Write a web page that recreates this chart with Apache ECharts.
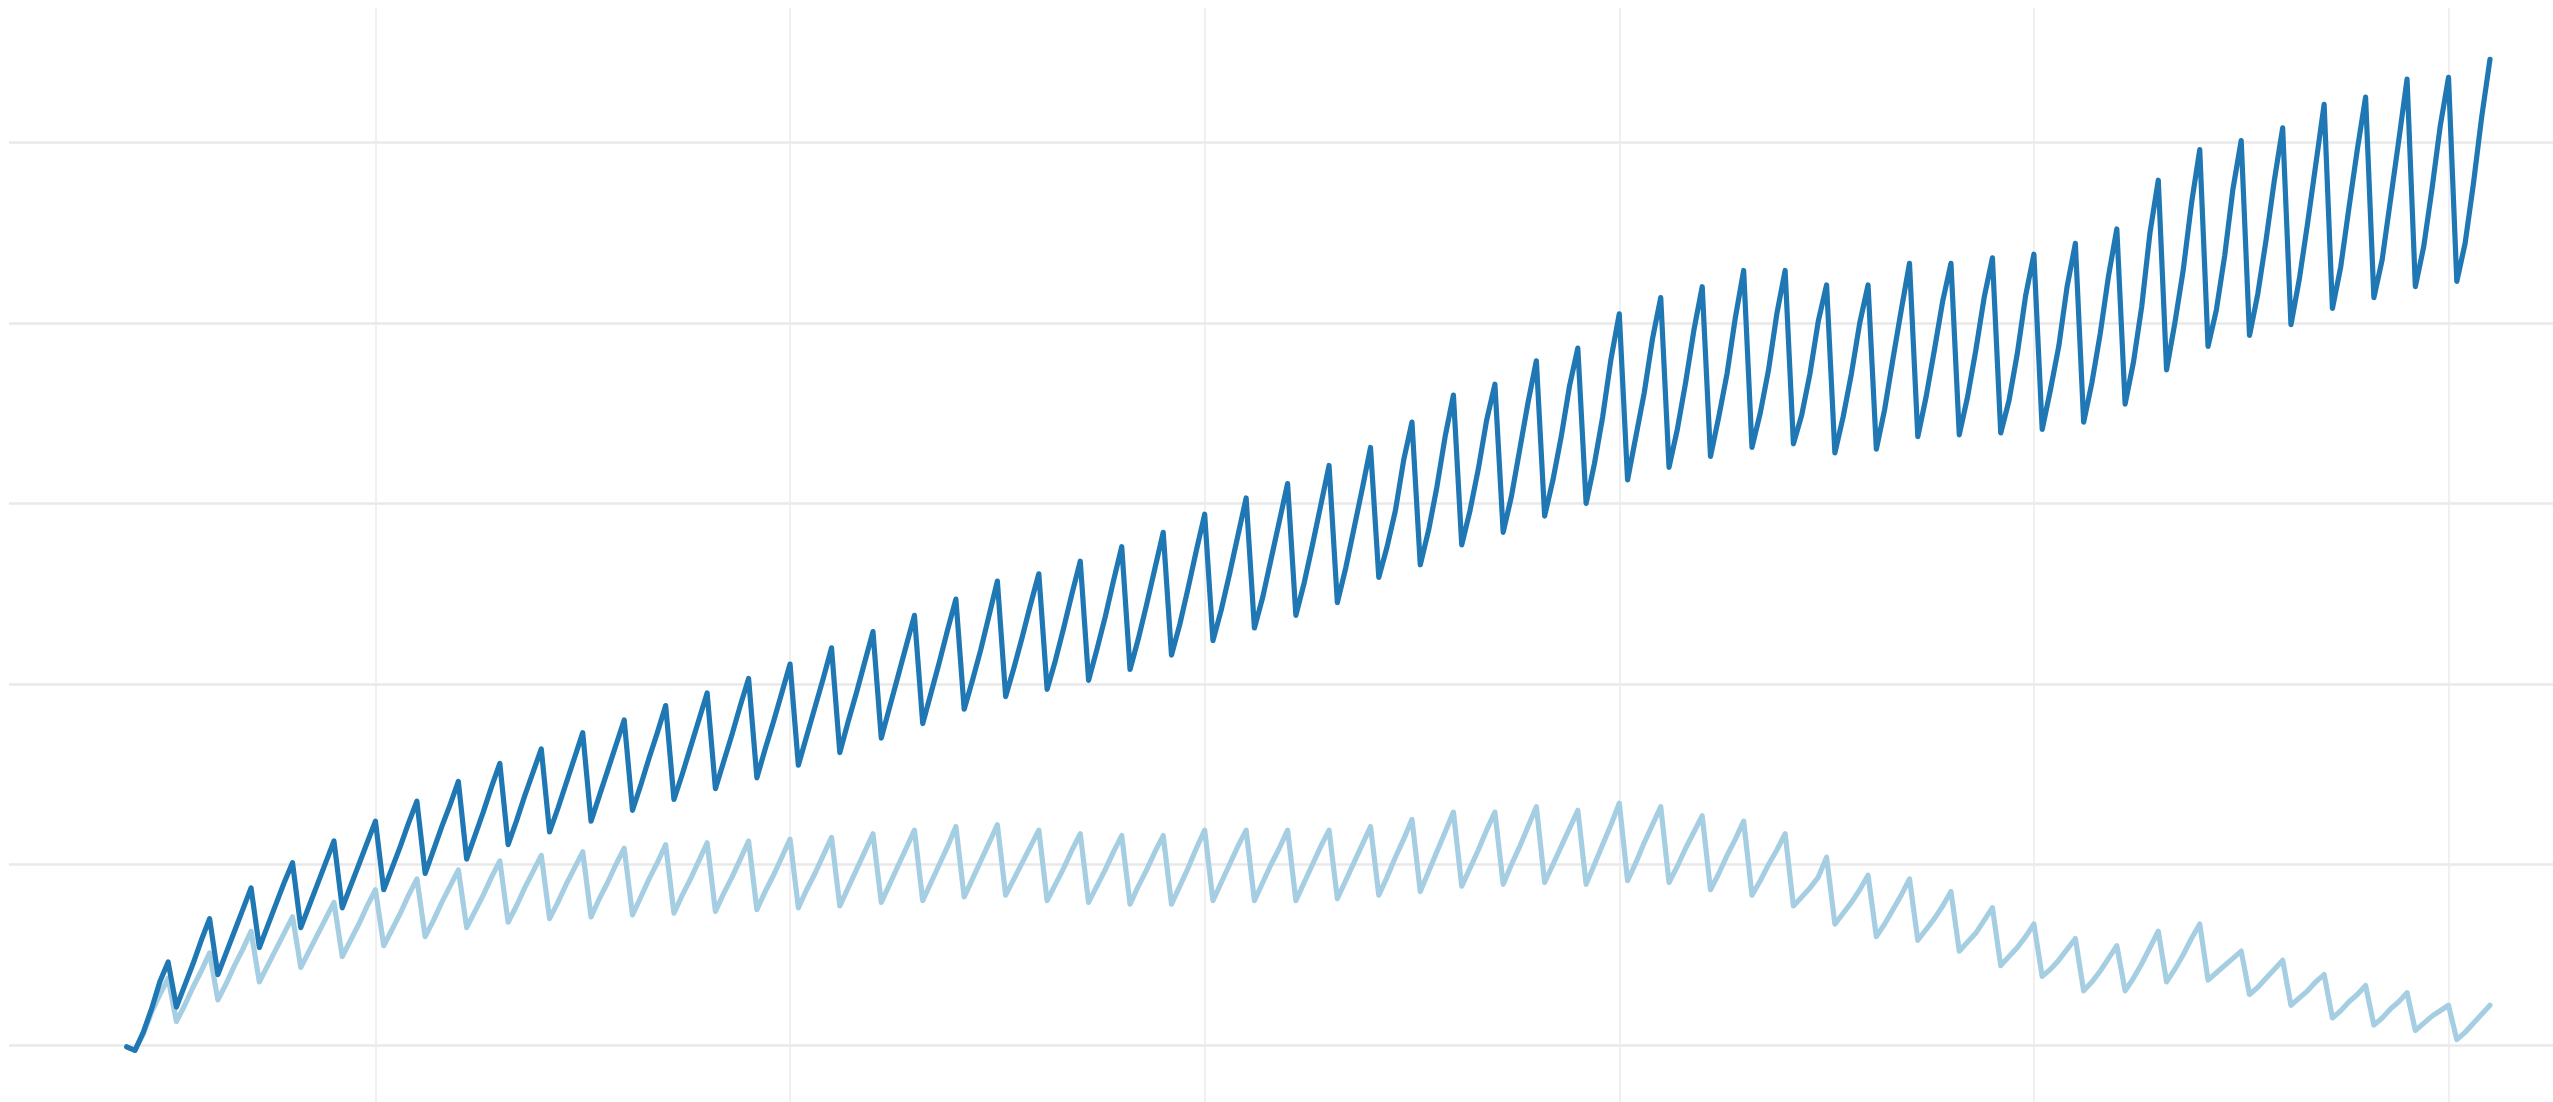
<!DOCTYPE html>
<html>
<head>
<meta charset="utf-8">
<script src="https://cdn.jsdelivr.net/npm/echarts@6/dist/echarts.min.js"></script>
<style>
html,body{margin:0;padding:0;background:#ffffff;}
#chart{width:2553px;height:1102px;}
</style>
</head>
<body>
<div id="chart"></div>
<script>
// x value of the first observation (observations are equally spaced, step 1)
const firstPeriod = 20;

// dark blue series, one value per observation
const darkValues = [
  -0.1, -0.3, 0.7, 2.0, 3.5, 4.6,
  2.1, 3.3, 4.5, 5.8, 7.0,
  3.9, 5.1, 6.3, 7.5, 8.7,
  5.4, 6.6, 7.8, 9.0, 10.1,
  6.5, 7.7, 8.9, 10.1, 11.3,
  7.6, 8.8, 10.0, 11.2, 12.4,
  8.6, 9.8, 11.0, 12.3, 13.5,
  9.5, 10.8, 12.1, 13.3, 14.6,
  10.3, 11.6, 12.9, 14.3, 15.6,
  11.1, 12.4, 13.8, 15.1, 16.4,
  11.8, 13.1, 14.5, 15.9, 17.3,
  12.4, 13.8, 15.2, 16.6, 18.0,
  13.0, 14.4, 15.9, 17.3, 18.8,
  13.6, 15.0, 16.5, 18.0, 19.5,
  14.2, 15.7, 17.2, 18.8, 20.3,
  14.8, 16.4, 17.9, 19.5, 21.1,
  15.5, 17.1, 18.7, 20.3, 22.0,
  16.2, 17.9, 19.5, 21.2, 22.9,
  17.0, 18.7, 20.4, 22.1, 23.8,
  17.8, 19.5, 21.2, 23.0, 24.7,
  18.6, 20.2, 21.9, 23.8, 25.7,
  19.3, 20.9, 22.6, 24.4, 26.1,
  19.7, 21.3, 23.1, 25.0, 26.8,
  20.2, 21.9, 23.7, 25.7, 27.6,
  20.8, 22.5, 24.4, 26.4, 28.4,
  21.6, 23.3, 25.3, 27.4, 29.4,
  22.4, 24.1, 26.1, 28.2, 30.3,
  23.1, 24.8, 26.9, 29.0, 31.1,
  23.8, 25.6, 27.7, 29.9, 32.1,
  24.5, 26.4, 28.6, 30.8, 33.1,
  25.9, 27.6, 29.6, 32.4, 34.5,
  26.6, 28.5, 30.9, 33.7, 36.0,
  27.7, 29.6, 31.9, 34.6, 36.6,
  28.4, 30.4, 33.0, 35.6, 37.9,
  29.3, 31.3, 33.7, 36.5, 38.6,
  30.0, 32.2, 34.8, 38.0, 40.5,
  31.3, 33.7, 36.1, 39.1, 41.4,
  32.0, 34.1, 36.7, 39.6, 42.0,
  32.6, 34.8, 37.2, 40.3, 42.9,
  33.1, 35.0, 37.4, 40.5, 42.9,
  33.3, 34.9, 37.2, 40.1, 42.1,
  32.8, 34.8, 37.2, 40.0, 42.1,
  33.0, 35.2, 38.0, 40.7, 43.3,
  33.7, 35.9, 38.5, 41.2, 43.3,
  33.8, 35.9, 38.5, 41.4, 43.6,
  33.9, 35.7, 38.3, 41.5, 43.8,
  34.1, 36.3, 38.7, 42.0, 44.4,
  34.5, 36.7, 39.4, 42.6, 45.2,
  35.5, 37.8, 40.9, 45.0, 47.9,
  37.4, 40.0, 42.9, 46.6, 49.6,
  38.7, 40.7, 43.7, 47.4, 50.1,
  39.3, 41.6, 44.6, 47.9, 50.8,
  39.9, 42.4, 45.5, 48.8, 52.1,
  40.8, 43.1, 46.4, 49.6, 52.5,
  41.4, 43.5, 46.8, 50.1, 53.5,
  42.0, 44.2, 47.4, 50.9, 53.6,
  42.3, 44.4, 47.7, 51.4, 54.6
];

// light blue series, one value per observation
const lightValues = [
  -0.1, -0.3, 0.6, 1.8, 2.8, 3.7,
  1.3, 2.2, 3.2, 4.1, 5.1,
  2.5, 3.4, 4.4, 5.3, 6.3,
  3.5, 4.4, 5.3, 6.2, 7.1,
  4.3, 5.2, 6.1, 7.0, 7.9,
  4.9, 5.8, 6.7, 7.7, 8.6,
  5.5, 6.4, 7.3, 8.3, 9.2,
  6.0, 6.9, 7.9, 8.8, 9.7,
  6.5, 7.4, 8.3, 9.3, 10.2,
  6.8, 7.7, 8.7, 9.6, 10.5,
  7.0, 7.9, 8.9, 9.8, 10.7,
  7.1, 8.1, 9.0, 10.0, 10.9,
  7.2, 8.2, 9.2, 10.1, 11.1,
  7.3, 8.3, 9.2, 10.2, 11.2,
  7.4, 8.4, 9.3, 10.3, 11.3,
  7.5, 8.5, 9.4, 10.4, 11.4,
  7.6, 8.6, 9.5, 10.5, 11.5,
  7.7, 8.7, 9.7, 10.7, 11.7,
  7.9, 8.9, 9.9, 10.9, 11.9,
  8.0, 9.0, 10.0, 11.0, 12.1,
  8.2, 9.2, 10.2, 11.2, 12.2,
  8.3, 9.2, 10.1, 11.0, 11.9,
  8.0, 8.9, 9.8, 10.8, 11.7,
  7.9, 8.8, 9.7, 10.7, 11.6,
  7.8, 8.8, 9.7, 10.7, 11.6,
  7.8, 8.8, 9.8, 10.9, 11.9,
  8.0, 9.0, 10.0, 11.0, 11.9,
  8.0, 9.0, 10.0, 10.9, 11.9,
  8.0, 9.0, 10.0, 11.0, 11.9,
  8.1, 9.1, 10.1, 11.1, 12.1,
  8.3, 9.3, 10.4, 11.4, 12.5,
  8.5, 9.6, 10.7, 11.8, 12.9,
  8.8, 9.8, 10.8, 11.9, 12.9,
  8.9, 10.0, 11.0, 12.1, 13.2,
  9.0, 10.0, 11.0, 12.0, 13.0,
  8.9, 10.0, 11.1, 12.2, 13.4,
  9.1, 10.1, 11.2, 12.2, 13.2,
  9.0, 9.9, 10.9, 11.8, 12.7,
  8.6, 9.5, 10.5, 11.4, 12.4,
  8.3, 9.1, 10.0, 10.8, 11.7,
  7.7, 8.2, 8.7, 9.3, 10.4,
  6.7, 7.3, 7.9, 8.6, 9.4,
  6.0, 6.7, 7.5, 8.3, 9.2,
  5.8, 6.4, 7.0, 7.7, 8.5,
  5.2, 5.7, 6.2, 6.9, 7.6,
  4.4, 4.9, 5.4, 6.0, 6.7,
  3.8, 4.2, 4.7, 5.3, 5.9,
  3.0, 3.5, 4.1, 4.8, 5.5,
  3.0, 3.7, 4.5, 5.4, 6.3,
  3.5, 4.2, 5.0, 5.9, 6.7,
  3.6, 4.0, 4.4, 4.8, 5.2,
  2.8, 3.2, 3.7, 4.2, 4.7,
  2.2, 2.6, 3.0, 3.5, 3.9,
  1.5, 1.9, 2.4, 2.8, 3.3,
  1.1, 1.5, 2.0, 2.4, 2.9,
  0.8, 1.2, 1.6, 1.9, 2.2,
  0.3, 0.7, 1.2, 1.7, 2.2
];

const periods = darkValues.map((_, i) => firstPeriod + i);

const chart = echarts.init(document.getElementById('chart'), null, {renderer: 'canvas'});
chart.setOption({
  animation: false,
  backgroundColor: '#ffffff',
  grid: {left: 9, right: 0, top: 8, bottom: 0, containLabel: false},
  xAxis: {
    type: 'value',
    min: 5.81,
    max: 312.6,
    axisLine: {show: false},
    axisTick: {show: false},
    axisLabel: {show: false},
    splitLine: {show: true, showMinLine: false, showMaxLine: false,
      lineStyle: {color: '#ebebeb', width: 1.5}}
  },
  yAxis: {
    type: 'value',
    min: -3.157,
    max: 57.44,
    axisLine: {show: false},
    axisTick: {show: false},
    axisLabel: {show: false},
    splitLine: {show: true, showMinLine: false, showMaxLine: false,
      lineStyle: {color: '#e9e9e9', width: 2.5}}
  },
  series: [
    {
      name: 'light',
      type: 'line',
      data: periods.map((p, i) => [p, lightValues[i]]),
      showSymbol: false,
      symbol: 'none',
      lineStyle: {color: '#a6cee3', width: 5.2, cap: 'round', join: 'round'},
      z: 2
    },
    {
      name: 'dark',
      type: 'line',
      data: periods.map((p, i) => [p, darkValues[i]]),
      showSymbol: false,
      symbol: 'none',
      lineStyle: {color: '#1f78b4', width: 5.2, cap: 'round', join: 'round'},
      z: 3
    }
  ]
});
</script>
</body>
</html>
